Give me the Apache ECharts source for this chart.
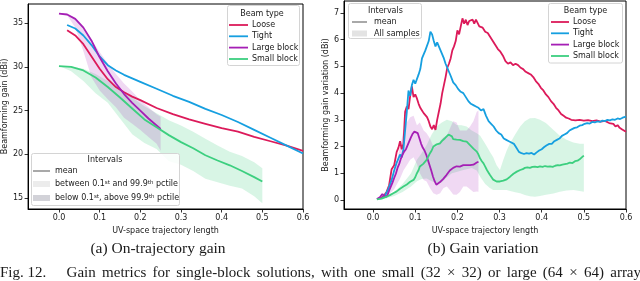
<!DOCTYPE html>
<html><head><meta charset="utf-8">
<script src="https://cdn.jsdelivr.net/npm/echarts@6/dist/echarts.min.js"></script>
<style>html,body{margin:0;padding:0;background:#fff}#c{width:640px;height:281px}</style>
</head><body><div id="c"></div>
<script>
// ---------- data ----------
const xTicks = [0, 0.1, 0.2, 0.3, 0.4, 0.5, 0.6];
const leftYTicks = [15, 20, 25, 30, 35];
const rightYTicks = [0, 1, 2, 3, 4, 5, 6, 7];
const beamTypes = ['Loose', 'Tight', 'Large block', 'Small block'];

// (a) On-trajectory gain (mean)
const leftLooseX = [0.02,0.04,0.06,0.08,0.1,0.12,0.14,0.16,0.18,0.2,0.24,0.28,0.32,0.36,0.4,0.44,0.48,0.52,0.56,0.6];
const leftLooseY = [34.2,33.6,32.6,31.2,29.8,28.6,27.7,27.1,26.6,26.2,25.3,24.6,24.0,23.5,23.0,22.6,22.0,21.5,21.0,20.4];
const leftTightX = [0.02,0.04,0.06,0.08,0.1,0.12,0.14,0.16,0.18,0.2,0.24,0.28,0.32,0.36,0.4,0.44,0.48,0.52,0.56,0.6];
const leftTightY = [34.8,34.4,33.6,32.5,31.2,30.2,29.6,29.1,28.7,28.3,27.5,26.7,26.0,25.2,24.5,23.7,22.8,21.9,21.0,20.1];
const leftLargeX = [0,0.02,0.04,0.06,0.08,0.1,0.12,0.14,0.16,0.18,0.2,0.22,0.24,0.25];
const leftLargeY = [36.1,36.0,35.5,34.5,33.0,31.1,29.5,28.1,26.9,25.9,25.0,24.1,23.3,22.9];
const leftLargeUp = [36.1,36.05,35.6,34.5,33.1,31.7,30.4,29.2,28.1,27.2,26.2,25.4,24.6,24.3];
const leftLargeLo = [36.1,35.9,34.5,31.8,28.8,27.3,26.3,25.4,24.2,23.5,22.8,22.0,21.2,20.4];
const leftSmallX = [0,0.03,0.06,0.09,0.12,0.15,0.18,0.21,0.24,0.27,0.3,0.33,0.36,0.39,0.42,0.45,0.48,0.5];
const leftSmallY = [30.1,30.0,29.6,28.8,27.7,26.5,25.25,24.0,23.1,22.2,21.4,20.7,19.9,19.3,18.75,18.1,17.4,16.9];
const leftSmallUp = [30.1,30.05,29.8,29.2,28.4,27.5,26.5,25.5,24.7,23.9,23.3,22.6,21.8,21.0,20.3,19.8,19.1,18.4];
const leftSmallLo = [30.1,29.5,28.4,27.0,25.9,24.1,22.3,21.3,20.6,19.2,18.8,18.1,17.2,16.8,16.4,16.1,15.2,14.4];

// (b) Gain variation (mean) as [x, y]
const rightLoose = [[0.017,0.05],[0.025,0.15],[0.032,0.3],[0.038,0.55],[0.044,1.15],[0.05,1.3],[0.056,1.8],[0.06,1.95],[0.064,2.2],[0.068,1.9],[0.072,2.1],[0.076,3.3],[0.08,3.5],[0.084,3.4],[0.088,3.9],[0.092,4.25],[0.096,3.85],[0.1,3.95],[0.104,3.8],[0.108,3.6],[0.112,3.45],[0.116,3.35],[0.12,3.25],[0.124,3.2],[0.128,3.1],[0.132,2.95],[0.136,2.75],[0.14,2.65],[0.144,2.8],[0.148,2.62],[0.152,3.0],[0.156,3.3],[0.16,3.6],[0.164,4.0],[0.168,4.3],[0.172,4.6],[0.176,4.95],[0.18,5.1],[0.184,5.3],[0.188,5.6],[0.192,5.75],[0.196,5.95],[0.2,6.35],[0.204,6.2],[0.208,6.5],[0.212,6.8],[0.216,6.6],[0.22,6.75],[0.224,6.55],[0.228,6.7],[0.232,6.65],[0.236,6.75],[0.24,6.6],[0.244,6.75],[0.248,6.7],[0.252,6.5],[0.256,6.55],[0.26,6.45],[0.266,6.3],[0.272,6.25],[0.278,6.1],[0.284,5.95],[0.29,5.8],[0.296,5.65],[0.302,5.55],[0.308,5.4],[0.314,5.2],[0.32,5.1],[0.326,5.15],[0.332,5.05],[0.338,5.1],[0.344,5.05],[0.35,4.95],[0.356,4.9],[0.362,4.8],[0.368,4.75],[0.374,4.7],[0.38,4.6],[0.386,4.45],[0.392,4.35],[0.398,4.2],[0.404,4.1],[0.41,3.95],[0.416,3.85],[0.422,3.7],[0.428,3.6],[0.434,3.45],[0.44,3.35],[0.446,3.22],[0.452,3.15],[0.458,3.08],[0.464,3.05],[0.47,3.0],[0.48,2.98],[0.49,3.0],[0.5,2.97],[0.51,2.99],[0.52,2.95],[0.53,2.98],[0.54,2.93],[0.55,2.96],[0.56,2.88],[0.57,2.85],[0.575,2.75],[0.58,2.8],[0.585,2.7],[0.59,2.65],[0.595,2.6],[0.6,2.55]];
const rightTight = [[0.02,0.05],[0.028,0.15],[0.036,0.4],[0.044,0.75],[0.05,1.1],[0.056,1.4],[0.06,1.55],[0.064,1.7],[0.068,1.6],[0.072,1.9],[0.076,2.6],[0.08,3.3],[0.084,4.1],[0.088,3.9],[0.092,4.3],[0.096,4.5],[0.1,4.35],[0.104,4.4],[0.108,4.7],[0.112,4.9],[0.116,5.3],[0.12,5.45],[0.124,5.6],[0.128,5.55],[0.132,5.95],[0.136,6.3],[0.14,6.2],[0.144,5.95],[0.148,5.75],[0.152,5.9],[0.156,5.85],[0.16,5.6],[0.164,5.45],[0.168,5.3],[0.172,5.1],[0.176,4.95],[0.18,4.8],[0.184,4.65],[0.19,4.4],[0.196,4.3],[0.202,4.15],[0.208,4.05],[0.214,4.0],[0.22,3.85],[0.226,3.7],[0.232,3.6],[0.238,3.55],[0.244,3.5],[0.25,3.45],[0.256,3.35],[0.262,3.4],[0.268,3.15],[0.274,2.95],[0.28,2.85],[0.286,2.75],[0.292,2.6],[0.298,2.5],[0.304,2.45],[0.31,2.3],[0.316,2.25],[0.322,2.2],[0.328,2.15],[0.334,2.1],[0.34,1.95],[0.346,1.8],[0.352,1.75],[0.358,1.72],[0.364,1.75],[0.37,1.73],[0.376,1.76],[0.382,1.7],[0.388,1.78],[0.394,1.85],[0.4,1.9],[0.406,1.98],[0.412,2.05],[0.418,2.1],[0.424,2.1],[0.43,2.2],[0.436,2.25],[0.442,2.3],[0.448,2.4],[0.454,2.45],[0.46,2.5],[0.466,2.6],[0.472,2.65],[0.478,2.7],[0.484,2.72],[0.49,2.78],[0.496,2.8],[0.502,2.85],[0.508,2.88],[0.514,2.86],[0.52,2.92],[0.526,2.9],[0.532,2.94],[0.538,2.92],[0.544,2.97],[0.55,2.95],[0.556,3.0],[0.562,2.98],[0.568,3.02],[0.574,3.0],[0.58,3.05],[0.586,3.03],[0.592,3.08],[0.596,3.05],[0.6,3.12]];
const rightLarge = [[0.009,0.03],[0.016,0.1],[0.022,0.22],[0.026,0.15],[0.03,0.1],[0.034,0.18],[0.038,0.35],[0.042,0.5],[0.046,0.65],[0.05,0.82],[0.054,0.98],[0.058,1.2],[0.062,1.35],[0.066,1.55],[0.07,1.7],[0.074,1.82],[0.078,1.9],[0.082,2.05],[0.086,2.2],[0.09,2.35],[0.094,2.48],[0.098,2.56],[0.102,2.55],[0.106,2.5],[0.11,2.3],[0.114,2.1],[0.118,1.95],[0.122,1.85],[0.126,1.7],[0.13,1.5],[0.134,1.3],[0.138,1.1],[0.142,0.88],[0.146,0.7],[0.15,0.57],[0.154,0.6],[0.158,0.66],[0.162,0.7],[0.166,0.78],[0.17,0.85],[0.174,0.93],[0.178,1.02],[0.182,1.1],[0.186,1.16],[0.19,1.2],[0.194,1.22],[0.198,1.26],[0.202,1.24],[0.206,1.25],[0.21,1.28],[0.214,1.3],[0.218,1.27],[0.222,1.3],[0.226,1.26],[0.23,1.3],[0.234,1.33],[0.238,1.32],[0.242,1.36],[0.246,1.4],[0.25,1.43]];
const rightSmall = [[0.009,0.02],[0.02,0.05],[0.032,0.12],[0.04,0.18],[0.048,0.25],[0.056,0.32],[0.064,0.42],[0.072,0.5],[0.08,0.58],[0.088,0.68],[0.096,0.75],[0.1,0.85],[0.104,1.0],[0.108,1.12],[0.111,1.25],[0.115,1.2],[0.119,1.35],[0.123,1.42],[0.127,1.5],[0.131,1.62],[0.135,1.75],[0.139,1.85],[0.143,2.0],[0.147,1.97],[0.151,2.08],[0.155,2.1],[0.159,2.12],[0.163,2.2],[0.167,2.27],[0.171,2.32],[0.175,2.37],[0.179,2.45],[0.183,2.5],[0.187,2.38],[0.19,2.28],[0.194,2.3],[0.198,2.26],[0.202,2.27],[0.206,2.25],[0.21,2.22],[0.214,2.2],[0.218,2.22],[0.222,2.18],[0.226,2.12],[0.23,2.05],[0.234,2.0],[0.238,1.92],[0.242,1.88],[0.246,1.81],[0.25,1.7],[0.254,1.55],[0.258,1.45],[0.262,1.37],[0.266,1.25],[0.27,1.12],[0.274,1.02],[0.277,0.94],[0.281,0.85],[0.285,0.76],[0.289,0.72],[0.293,0.69],[0.297,0.68],[0.301,0.69],[0.305,0.7],[0.309,0.72],[0.313,0.74],[0.317,0.77],[0.321,0.82],[0.325,0.87],[0.329,0.92],[0.333,0.98],[0.337,1.02],[0.341,1.06],[0.345,1.1],[0.349,1.12],[0.355,1.15],[0.36,1.2],[0.366,1.22],[0.372,1.2],[0.378,1.24],[0.384,1.25],[0.39,1.23],[0.396,1.26],[0.402,1.24],[0.408,1.27],[0.414,1.25],[0.42,1.26],[0.426,1.24],[0.432,1.28],[0.438,1.3],[0.443,1.29],[0.449,1.32],[0.455,1.34],[0.461,1.36],[0.467,1.4],[0.473,1.38],[0.479,1.45],[0.485,1.47],[0.49,1.52],[0.494,1.45],[0.497,1.62],[0.5,1.66]];
const rightLargeBandX = [0.01,0.03,0.05,0.064,0.072,0.08,0.088,0.096,0.104,0.111,0.12,0.127,0.135,0.143,0.151,0.159,0.167,0.175,0.183,0.19,0.198,0.206,0.214,0.222,0.23,0.238,0.246,0.25];
const rightLargeUp = [0.05,0.3,1.0,2.0,2.6,2.9,3.1,3.15,2.8,2.9,2.6,2.5,2.3,2.0,2.0,2.2,2.35,2.4,2.7,2.95,2.9,2.6,2.6,2.6,2.75,2.95,3.3,3.35];
const rightLargeLo = [0.0,0.1,0.4,0.8,1.1,1.3,1.5,1.6,1.35,1.0,0.75,0.69,0.45,0.25,0.19,0.25,0.45,0.5,0.35,0.2,0.19,0.3,0.5,0.5,0.4,0.3,0.32,0.31];
const rightSmallBandX = [0.01,0.03,0.05,0.07,0.09,0.104,0.115,0.127,0.139,0.151,0.163,0.175,0.187,0.198,0.21,0.222,0.234,0.246,0.254,0.266,0.277,0.285,0.293,0.301,0.309,0.317,0.325,0.337,0.349,0.36,0.372,0.384,0.396,0.41,0.428,0.443,0.459,0.475,0.49,0.5];
const rightSmallUp = [0.03,0.15,0.3,0.6,1.0,1.5,1.75,2.06,2.45,2.75,2.9,3.0,2.95,2.81,2.8,2.75,2.6,2.5,2.4,2.1,1.8,1.6,1.3,1.12,1.5,1.85,2.12,2.45,2.75,2.95,3.06,3.07,3.0,2.88,2.62,2.4,2.25,2.15,2.1,2.1];
const rightSmallLo = [0.0,0.05,0.15,0.3,0.5,0.7,0.78,0.8,0.7,0.62,0.65,0.85,1.0,1.05,1.1,1.15,1.2,1.1,0.87,0.6,0.45,0.37,0.37,0.37,0.37,0.37,0.33,0.29,0.25,0.18,0.14,0.12,0.15,0.19,0.24,0.31,0.35,0.37,0.33,0.31];

// ---------- styling ----------
const colors = ['#dc1a5a', '#169fe0', '#a51fb5', '#3ccf7f'];
const purpleBand = 'rgba(165,31,181,0.17)';
const greenBand = 'rgba(60,207,127,0.2)';
const FONT = 'DejaVu Sans';
const SERIF = 'Liberation Serif';
const TXT = '#1a1a1a';

const chart = echarts.init(document.getElementById('c'), null, {renderer: 'canvas'});

function xAxis(gi, min) {
  return {type: 'value', gridIndex: gi, min: min, max: 0.6,
    name: 'UV-space trajectory length', nameLocation: 'middle', nameGap: 15,
    nameTextStyle: {fontFamily: FONT, fontSize: 8, color: TXT},
    axisLine: {show: true, onZero: false, lineStyle: {color: '#000', width: 1}},
    axisTick: {show: true, customValues: xTicks, length: 3.5, lineStyle: {color: '#000', width: 0.8}},
    axisLabel: {customValues: xTicks, formatter: v => v.toFixed(1), fontFamily: FONT, fontSize: 8, color: TXT, margin: 5},
    splitLine: {show: false}};
}
function yAxis(gi, min, max, ticks, name, gap) {
  return {type: 'value', gridIndex: gi, min: min, max: max,
    name: name, nameLocation: 'middle', nameGap: gap,
    nameTextStyle: {fontFamily: FONT, fontSize: 8, color: TXT},
    axisLine: {show: true, onZero: false, lineStyle: {color: '#000', width: 1}},
    axisTick: {show: true, customValues: ticks, length: 3.5, lineStyle: {color: '#000', width: 0.8}},
    axisLabel: {customValues: ticks, fontFamily: FONT, fontSize: 8, color: TXT, margin: 5},
    splitLine: {show: false}};
}
function line(gi, data, color, name) {
  return {type: 'line', name: name, xAxisIndex: gi, yAxisIndex: gi, data: data, symbol: 'none',
    showSymbol: false, lineStyle: {width: 1.8, color: color}, itemStyle: {color: color}, z: 3, silent: true};
}
function zip(xs, ys) { return xs.map((x, i) => [x, ys[i]]); }
function band(gi, xs, up, lo, color) {
  return {type: 'custom', xAxisIndex: gi, yAxisIndex: gi, silent: true, z: 1, clip: true,
    data: [[xs[0], up[0]]],
    renderItem: function (params, api) {
      const pts = [];
      for (let i = 0; i < xs.length; i++) pts.push(api.coord([xs[i], up[i]]));
      for (let i = xs.length - 1; i >= 0; i--) pts.push(api.coord([xs[i], lo[i]]));
      return {type: 'polygon', shape: {points: pts}, style: {fill: color, stroke: null}};
    }};
}

// ---------- legends (graphic) ----------
const g = [];
function txt(x, y, s, align, size, font, extra) {
  const o = {type: 'text', x: x, y: y, silent: true, z: 100,
    style: Object.assign({text: s, fill: TXT, font: (size || 8) + 'px "' + (font || FONT) + '"',
      textAlign: align || 'left', textVerticalAlign: 'middle'}, extra || {})};
  g.push(o);
}
function box(x, y, w, h) {
  g.push({type: 'rect', shape: {x: x, y: y, width: w, height: h, r: 2}, silent: true, z: 90,
    style: {fill: 'rgba(255,255,255,0.85)', stroke: '#d4d4d4', lineWidth: 1}});
}
function hline(x1, x2, y, color, w) {
  g.push({type: 'line', shape: {x1: x1, y1: y, x2: x2, y2: y}, silent: true, z: 100,
    style: {stroke: color, lineWidth: w}});
}
function patch(x, y, w, h, color) {
  g.push({type: 'rect', shape: {x: x, y: y, width: w, height: h}, silent: true, z: 100, style: {fill: color}});
}
function beamLegend(x, y, w, h, lx1, lx2, tx, titleX, titleY, ys) {
  box(x, y, w, h);
  txt(titleX, titleY, 'Beam type', 'center');
  beamTypes.forEach((b, i) => { hline(lx1, lx2, ys[i], colors[i], 1.8); txt(tx, ys[i], b); });
}
beamLegend(227.5, 5.5, 72, 60, 229, 248, 252, 262, 14, [25, 36.3, 47.6, 59]);
beamLegend(548.5, 3.5, 74, 59.5, 551, 569, 573, 585.5, 11, [22, 33.3, 44.6, 56]);

// right Intervals
box(348.5, 3.5, 73, 35);
txt(385.5, 11, 'Intervals', 'center');
hline(352, 367, 22, '#8c8c8c', 1.5);
txt(374, 22, 'mean');
patch(352, 30.5, 15, 6, '#e3e3e3');
txt(374, 33.5, 'All samples');

// left Intervals
box(31.5, 153.5, 148, 52);
txt(105, 160, 'Intervals', 'center');
hline(33, 50, 171, '#8c8c8c', 1.5);
txt(55, 171, 'mean');
patch(33, 181, 17, 6, '#ececec');
patch(33, 195, 17, 6, '#d2d2d8');
const rich = {a: {fontFamily: FONT, fontSize: 8, fill: TXT, verticalAlign: 'bottom'},
  s: {fontFamily: FONT, fontSize: 5.5, fill: TXT, verticalAlign: 'top'}};
g.push({type: 'text', x: 55, y: 184, silent: true, z: 100,
  style: {text: '{a|between 0.1}{s|st}{a| and 99.9}{s|th}{a| pctile}', rich: rich, textVerticalAlign: 'middle'}});
g.push({type: 'text', x: 55, y: 198, silent: true, z: 100,
  style: {text: '{a|below 0.1}{s|st}{a|, above 99.9}{s|th}{a| pctile}', rich: rich, textVerticalAlign: 'middle'}});

// captions
txt(158, 249, '(a) On-trajectory gain', 'center', 15.5, SERIF);
txt(483, 249, '(b) Gain variation', 'center', 15.5, SERIF);

// justified figure caption line (word-by-word layout)
const capFont = '15px "' + SERIF + '"';
const capWords = ['Gain','metrics','for','single-block','solutions,','with','one','small','(32','\u00d7','32)','or','large','(64','\u00d7','64)','array'];
(function () {
  const ctx = document.createElement('canvas').getContext('2d');
  ctx.font = capFont;
  const w = capWords.map(s => ctx.measureText(s).width);
  const sp = 6.3;
  const firstW = w.slice(0, 5).reduce((a, b) => a + b, 0);
  let x = 321 - firstW - 5 * sp;
  g.push({type: 'text', x: 0, y: 280.5, silent: true, z: 100,
    style: {text: 'Fig. 12.', fill: TXT, font: capFont, textAlign: 'left', textVerticalAlign: 'bottom'}});
  capWords.forEach((s, i) => {
    g.push({type: 'text', x: x, y: 280.5, silent: true, z: 100,
      style: {text: s, fill: TXT, font: capFont, textAlign: 'left', textVerticalAlign: 'bottom'}});
    x += w[i] + sp;
  });
})();

const option = {
  animation: false,
  backgroundColor: '#fff',
  grid: [
    {left: 27, top: 4, width: 276, height: 205, show: true, borderColor: '#000', borderWidth: 1, backgroundColor: 'transparent'},
    {left: 344, top: 1, width: 282, height: 208, show: true, borderColor: '#000', borderWidth: 1, backgroundColor: 'transparent'}
  ],
  xAxis: [xAxis(0, -0.076), xAxis(1, -0.069)],
  yAxis: [yAxis(0, 13.75, 37.2, leftYTicks, 'Beamforming gain (dBi)', 11),
          yAxis(1, -0.34, 7.45, rightYTicks, 'Beamforming gain variation (dBi)', 6)],
  series: [
    band(0, leftSmallX, leftSmallUp, leftSmallLo, greenBand),
    band(0, leftLargeX, leftLargeUp, leftLargeLo, purpleBand),
    line(0, zip(leftLooseX, leftLooseY), colors[0], beamTypes[0]),
    line(0, zip(leftTightX, leftTightY), colors[1], beamTypes[1]),
    line(0, zip(leftLargeX, leftLargeY), colors[2], beamTypes[2]),
    line(0, zip(leftSmallX, leftSmallY), colors[3], beamTypes[3]),
    band(1, rightSmallBandX, rightSmallUp, rightSmallLo, greenBand),
    band(1, rightLargeBandX, rightLargeUp, rightLargeLo, purpleBand),
    line(1, rightLoose, colors[0], beamTypes[0]),
    line(1, rightTight, colors[1], beamTypes[1]),
    line(1, rightLarge, colors[2], beamTypes[2]),
    line(1, rightSmall, colors[3], beamTypes[3])
  ],
  graphic: g
};
chart.setOption(option);
</script>
</body></html>
